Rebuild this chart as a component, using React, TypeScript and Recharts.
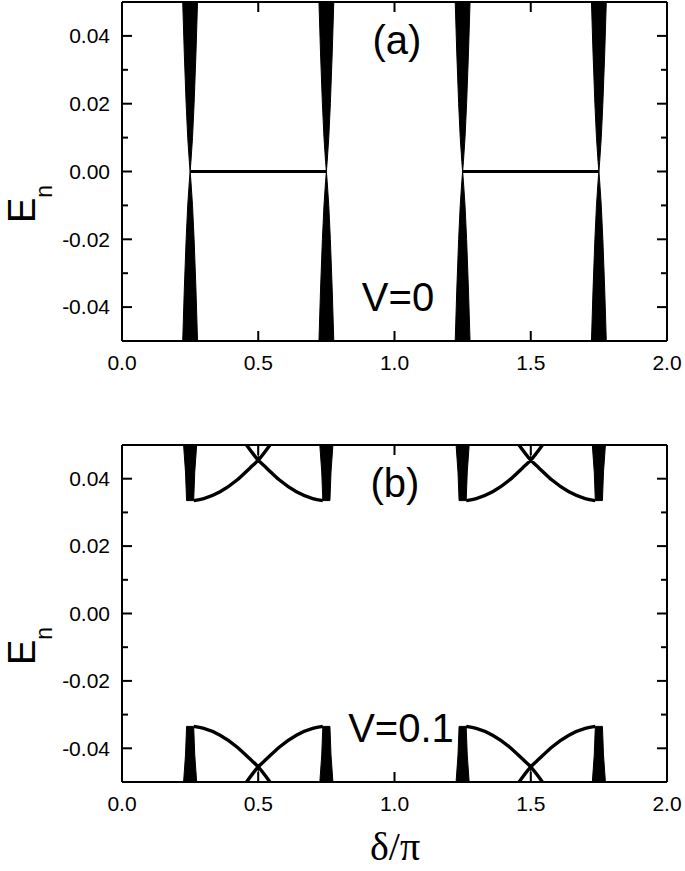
import { ComposedChart, XAxis, YAxis, Area, Line } from "recharts";

// axes
const X_DOMAIN: [number, number] = [0, 2];
const Y_DOMAIN: [number, number] = [-0.05, 0.05];
const X_TICKS = [0, 0.5, 1, 1.5, 2];
const Y_TICKS = [-0.04, -0.02, 0, 0.02, 0.04];
const Y_MINOR = [-0.03, -0.01, 0.01, 0.03];

// gap-closing points, in units of δ/π
const NODES = [0.25, 0.75, 1.25, 1.75];
const ARC_DIR = [1, -1, 1, -1];

// (a) V=0: half-width of the band wedge (δ/π) at each |E|
const A_WEDGE_E = [0.05, 0.035, 0.02, 0.01, 0.003, 0];
const A_WEDGE_W = [0.0272, 0.0215, 0.0146, 0.0088, 0.003, 0];
// (a) zero-energy flat band
const A_FLAT_FROM = [0.25, 1.25];
const A_FLAT_TO = [0.75, 1.75];

// (b) V=0.1: wedge from the edge down to the gap
const B_WEDGE_E = [0.05, 0.042, 0.0335];
const B_WEDGE_W = [0.024, 0.017, 0.013];
// (b) arc leaving each wedge towards δ/π = 0.5 (1.5)
const B_ARC_DX = [0.013, 0.05, 0.11, 0.172, 0.22, 0.25, 0.293];
const B_ARC_E = [0.0335, 0.0341, 0.0361, 0.0396, 0.0432, 0.0455, 0.05];
// (b) thin line above the crossing
const B_TIP_X = [0.5, 1.5];
const B_TIP_E = [0.0455, 0.05];

type Row = {
  x: number;
  up?: [number, number];
  dn?: [number, number];
  flat?: number;
  arc?: number;
  tip?: number;
};

const EDGE = Y_DOMAIN[1];

function wedgeRows(center: number, levels: number[], widths: number[], key: "up" | "dn"): Row[] {
  const band = (e: number): [number, number] => (key === "up" ? [e, EDGE] : [-EDGE, -e]);
  const rows: Row[] = [];
  levels.forEach((e, i) => rows.push({ x: center - widths[i], [key]: band(e) }));
  for (let i = levels.length - 1; i >= 0; i--) {
    if (widths[i] === 0) continue;
    rows.push({ x: center + widths[i], [key]: band(levels[i]) });
  }
  rows.push({ x: center });
  return rows;
}

function arcRows(center: number, dir: number, sign: number): Row[] {
  let rows: Row[] = B_ARC_DX.map((dx, i) => ({ x: center + dir * dx, arc: sign * B_ARC_E[i] }));
  if (dir < 0) rows = rows.reverse();
  rows.push({ x: center });
  return rows;
}

const tableA: Row[] = [];
NODES.forEach((c) => {
  tableA.push(...wedgeRows(c, A_WEDGE_E, A_WEDGE_W, "up"));
  tableA.push(...wedgeRows(c, A_WEDGE_E, A_WEDGE_W, "dn"));
});
A_FLAT_FROM.forEach((from, i) => {
  tableA.push({ x: from, flat: 0 }, { x: A_FLAT_TO[i], flat: 0 }, { x: from });
});

const tableB: Row[] = [];
NODES.forEach((c, i) => {
  tableB.push(...wedgeRows(c, B_WEDGE_E, B_WEDGE_W, "up"));
  tableB.push(...wedgeRows(c, B_WEDGE_E, B_WEDGE_W, "dn"));
  tableB.push(...arcRows(c, ARC_DIR[i], 1));
  tableB.push(...arcRows(c, ARC_DIR[i], -1));
});
B_TIP_X.forEach((t) => {
  tableB.push({ x: t, tip: B_TIP_E[0] }, { x: t, tip: B_TIP_E[1] }, { x: t });
  tableB.push({ x: t, tip: -B_TIP_E[0] }, { x: t, tip: -B_TIP_E[1] }, { x: t });
});

const FONT = "'Liberation Sans', Arial, sans-serif";
const TICK_FONT = 21;
const MARGIN = 12;
const X_MARGIN = 14;
const frame = { stroke: "#000", strokeWidth: 2 };
const yTicksAll = [...Y_TICKS, ...Y_MINOR].sort((a, b) => a - b);

const LeftTick = (props: any) => {
  const { x, y, payload } = props;
  const major = Y_TICKS.includes(payload.value);
  const ax = x + MARGIN;
  return (
    <g>
      <line x1={ax} x2={ax + (major ? 10 : 6)} y1={y} y2={y} stroke="#000" strokeWidth={2} />
      {major && (
        <text x={x} y={y} dy="0.35em" textAnchor="end" fontSize={TICK_FONT} fontFamily={FONT} fill="#000">
          {payload.value.toFixed(2)}
        </text>
      )}
    </g>
  );
};

const RightTick = (props: any) => {
  const { x, y, payload } = props;
  const major = Y_TICKS.includes(payload.value);
  return <line x1={x} x2={x - (major ? 10 : 6)} y1={y} y2={y} stroke="#000" strokeWidth={2} />;
};

const BottomTick = (props: any) => {
  const { x, y, payload } = props;
  const ay = y - X_MARGIN;
  return (
    <g>
      <line x1={x} x2={x} y1={ay} y2={ay - 10} stroke="#000" strokeWidth={2} />
      <text x={x} y={y} dy="0.71em" textAnchor="middle" fontSize={TICK_FONT} fontFamily={FONT} fill="#000">
        {payload.value.toFixed(1)}
      </text>
    </g>
  );
};

const TopTick = (props: any) => {
  const { x, y } = props;
  return <line x1={x} x2={x} y1={y} y2={y + 10} stroke="#000" strokeWidth={2} />;
};

function Panel({ data, height, top, bottomAxis, children }: any) {
  return (
    <ComposedChart width={685} height={height} data={data} margin={{ top, right: 0, bottom: 0, left: 0 }}>
      <XAxis
        xAxisId="b"
        dataKey="x"
        type="number"
        domain={X_DOMAIN}
        allowDataOverflow
        ticks={X_TICKS}
        interval={0}
        height={bottomAxis}
        axisLine={frame}
        tickLine={false}
        tickSize={0}
        tickMargin={X_MARGIN}
        tick={BottomTick}
      />
      <XAxis
        xAxisId="t"
        dataKey="x"
        type="number"
        orientation="top"
        domain={X_DOMAIN}
        allowDataOverflow
        ticks={X_TICKS}
        interval={0}
        height={2}
        axisLine={frame}
        tickLine={false}
        tickSize={0}
        tickMargin={0}
        tick={TopTick}
      />
      <YAxis
        yAxisId="l"
        type="number"
        domain={Y_DOMAIN}
        allowDataOverflow
        ticks={yTicksAll}
        interval={0}
        width={122}
        axisLine={frame}
        tickLine={false}
        tickSize={0}
        tickMargin={MARGIN}
        tick={LeftTick}
      />
      <YAxis
        yAxisId="r"
        orientation="right"
        type="number"
        domain={Y_DOMAIN}
        allowDataOverflow
        ticks={yTicksAll}
        interval={0}
        width={18}
        axisLine={frame}
        tickLine={false}
        tickSize={0}
        tickMargin={0}
        tick={RightTick}
      />
      {children}
    </ComposedChart>
  );
}

const bandProps = {
  xAxisId: "b",
  yAxisId: "l",
  type: "linear" as const,
  stroke: "#000",
  strokeWidth: 1,
  fill: "#000",
  fillOpacity: 1,
  dot: false,
  activeDot: false,
  isAnimationActive: false,
};

const lineProps = {
  xAxisId: "b",
  yAxisId: "l",
  stroke: "#000",
  dot: false,
  activeDot: false,
  isAnimationActive: false,
};

const textStyle = { fontFamily: FONT, fontSize: 40, fill: "#000" };

function EnLabel({ x, y }: { x: number; y: number }) {
  return (
    <text x={x} y={y} transform={`rotate(-90 ${x} ${y})`} fontFamily={FONT} fontSize={38} fill="#000">
      E<tspan fontSize={23} dy={17}>n</tspan>
    </text>
  );
}

export default function App() {
  return (
    <div style={{ position: "absolute", left: 0, top: 0, width: 685, height: 871, background: "#fff" }}>
      <div style={{ position: "absolute", left: 0, top: 0 }}>
        <Panel data={tableA} height={400} top={0} bottomAxis={59}>
          <Area {...bandProps} dataKey="up" />
          <Area {...bandProps} dataKey="dn" />
          <Line {...lineProps} type="linear" dataKey="flat" strokeWidth={3.2} />
        </Panel>
      </div>
      <div style={{ position: "absolute", left: 0, top: 400 }}>
        <Panel data={tableB} height={471} top={43} bottomAxis={89}>
          <Area {...bandProps} dataKey="up" />
          <Area {...bandProps} dataKey="dn" />
          <Line {...lineProps} type="monotone" dataKey="arc" strokeWidth={3.4} />
          <Line {...lineProps} type="linear" dataKey="tip" strokeWidth={1.2} />
        </Panel>
      </div>
      <svg width={685} height={871} style={{ position: "absolute", left: 0, top: 0, pointerEvents: "none" }}>
        <text x={397} y={54} textAnchor="middle" {...textStyle}>(a)</text>
        <text x={398} y={311} textAnchor="middle" {...textStyle}>V=0</text>
        <text x={395} y={497} textAnchor="middle" {...textStyle}>(b)</text>
        <text x={401} y={742} textAnchor="middle" {...textStyle}>V=0.1</text>
        <text x={395} y={860} textAnchor="middle" fontFamily="'Liberation Serif', 'DejaVu Serif', serif" fontSize={40} fill="#000">
          δ/π
        </text>
        <EnLabel x={35} y={223} />
        <EnLabel x={35} y={665} />
      </svg>
    </div>
  );
}
